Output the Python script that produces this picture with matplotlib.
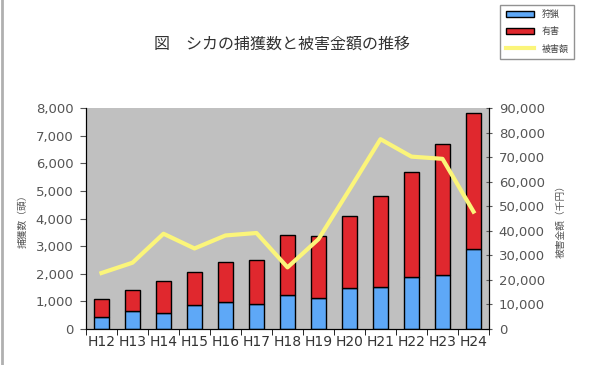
import matplotlib
matplotlib.use("Agg")
import matplotlib.pyplot as plt
import numpy as np
from matplotlib.lines import Line2D

plt.rcParams['font.family'] = ['DejaVu Sans', 'Noto Sans CJK JP']

# data
years = ['H12', 'H13', 'H14', 'H15', 'H16', 'H17', 'H18',
         'H19', 'H20', 'H21', 'H22', 'H23', 'H24']
hunting = [420, 640, 580, 870, 990, 920, 1220, 1140, 1490, 1530, 1890, 1960, 2890]
nuisance = [680, 780, 1140, 1190, 1450, 1580, 2180, 2210, 2610, 3290, 3800, 4740, 4940]
damage = [22800, 27000, 38800, 32800, 38100, 39100, 25100, 36600,
          56800, 77300, 70200, 69300, 47800]

jp = ['Noto Sans CJK JP', 'DejaVu Sans']
tick_col = '#555555'

fig = plt.figure(figsize=(6, 3.65), dpi=100)
ax = fig.add_axes([0.1433, 0.0986, 0.6717, 0.6055])
ax.set_facecolor('#c0c0c0')

x = np.arange(len(years))
ax.bar(x, hunting, width=0.5, color='#5ea8f7', edgecolor='black', linewidth=1, label='狩猟', zorder=2)
ax.bar(x, nuisance, width=0.5, bottom=hunting, color='#e0282e', edgecolor='black',
       linewidth=1, label='有害', zorder=2)
ax.set_ylim(0, 8000)
ax.set_xlim(-0.5, len(years) - 0.5)
ax.set_yticks(range(0, 8001, 1000))
ax.set_yticklabels([f'{v:,}' for v in range(0, 8001, 1000)])
ax.set_xticks(x)
ax.set_xticklabels(years)
ax.set_xticks(np.arange(-0.5, len(years)), minor=True)
ax.tick_params(axis='x', which='major', length=0, pad=4, labelsize=10, colors='#333333')
ax.tick_params(axis='x', which='minor', length=4, direction='out')
ax.tick_params(axis='y', length=4, direction='out', labelsize=9.5, colors=tick_col, pad=5)
ax.set_ylabel('捕獲数（頭）', family=jp, fontsize=7, color=tick_col, labelpad=6)
ax.spines['top'].set_visible(False)

ax2 = ax.twinx()
ax2.plot(x, damage, color='#fbf57a', linewidth=3, label='被害額', zorder=3)
ax2.set_ylim(0, 90000)
ax2.set_yticks(range(0, 90001, 10000))
ax2.set_yticklabels([f'{v:,}' for v in range(0, 90001, 10000)])
ax2.tick_params(axis='y', length=4, direction='inout', labelsize=9.5, colors=tick_col, pad=5)
ax2.set_ylabel('被害金額（千円）', family=jp, fontsize=7, color=tick_col, labelpad=8)
ax2.spines['top'].set_visible(False)

fig.text(0.47, 0.88, '図　シカの捕獲数と被害金額の推移', family=jp, fontsize=11.5,
         color='#333333', ha='center', va='center')

h1, l1 = ax.get_legend_handles_labels()
h2, l2 = ax2.get_legend_handles_labels()
leg = fig.legend(h1 + h2, l1 + l2, loc='upper left', bbox_to_anchor=(0.826, 1.0),
                 prop={'family': jp, 'size': 6.5}, frameon=True, fancybox=False,
                 edgecolor='#777777', handlelength=3.2, handleheight=0.6,
                 labelspacing=0.9, borderpad=0.6, labelcolor='#444444')

# thin gray line down the left edge of the picture
fig.lines.append(Line2D([0.004, 0.004], [0, 1], transform=fig.transFigure,
                        color='#b0b0b0', linewidth=2))

fig.savefig('out.png', dpi=100)
